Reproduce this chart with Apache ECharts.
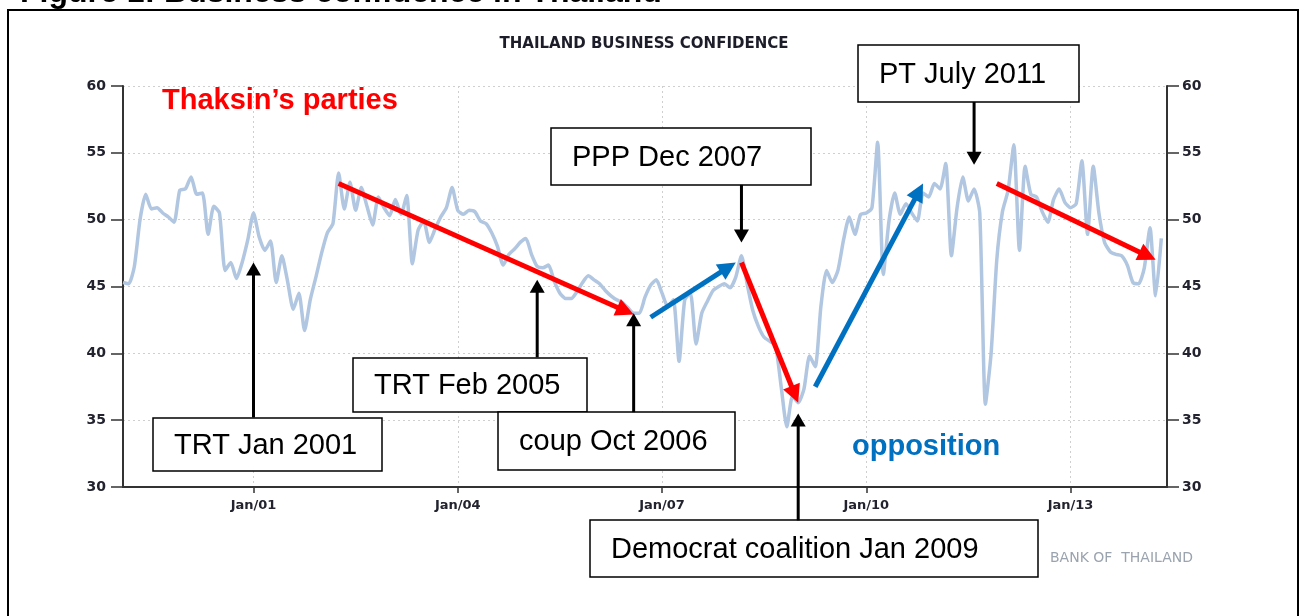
<!DOCTYPE html>
<html>
<head>
<meta charset="utf-8">
<title>Thailand business confidence</title>
<script src="https://cdn.jsdelivr.net/npm/echarts@6/dist/echarts.min.js"></script>
<style>
  html, body { margin: 0; padding: 0; background: #fff; }
  #main { width: 1306px; height: 616px; }
</style>
</head>
<body>
<div id="main"></div>
<script>
// months on the axis: Feb 1999 .. Jun 2014
const firstYear = 1999, firstMonth = 2, monthCount = 185;
const months = [];
for (let i = 0; i < monthCount; i++) {
  const t = firstMonth - 1 + i;
  const m = t % 12 + 1;
  months.push((firstYear + Math.floor(t / 12)) + '-' + (m < 10 ? '0' + m : m));
}
const tickMonths = ['2001-01', '2004-01', '2007-01', '2010-01', '2013-01'];
const tickLabels = ['Jan/01', 'Jan/04', 'Jan/07', 'Jan/10', 'Jan/13'];

// business sentiment index
const bsi1999 = [45.3, 45.2, 46.5, 50.0, 51.9, 50.8, 50.9, 50.5, 50.2, 49.8, 52.2];
const bsi2000 = [52.3, 53.2, 51.9, 52.0, 48.9, 51.0, 50.5, 46.2, 46.8, 45.6, 46.8, 48.5];
const bsi2001 = [50.5, 48.7, 47.7, 48.4, 45.3, 47.3, 45.4, 43.3, 44.5, 41.7, 44.0, 45.7];
const bsi2002 = [47.5, 49.0, 49.7, 53.5, 50.8, 52.8, 50.7, 52.4, 51.0, 49.6, 51.7, 50.9];
const bsi2003 = [50.3, 51.5, 50.4, 51.8, 46.7, 49.2, 49.9, 48.3, 49.3, 50.2, 50.9, 52.4];
const bsi2004 = [50.7, 50.4, 50.7, 50.6, 49.9, 49.7, 49.0, 48.0, 46.6, 47.4, 47.8, 48.3];
const bsi2005 = [48.6, 47.4, 46.5, 46.4, 46.6, 45.4, 44.5, 44.1, 44.1, 44.6, 45.3, 45.8];
const bsi2006 = [45.5, 45.2, 44.7, 44.3, 44.0, 43.8, 43.4, 43.0, 43.0, 44.2, 45.1, 45.5];
const bsi2007 = [44.5, 43.5, 44.0, 39.4, 44.0, 44.5, 40.7, 43.0, 43.9, 44.7, 45.0, 45.2];
const bsi2008 = [44.9, 45.7, 47.3, 45.2, 43.2, 42.0, 41.2, 40.9, 40.6, 37.5, 34.5, 36.8];
const bsi2009 = [36.3, 37.3, 39.8, 39.0, 43.5, 46.2, 45.3, 46.2, 48.5, 50.2, 48.9, 50.4];
const bsi2010 = [50.5, 50.9, 55.8, 45.9, 49.9, 52.0, 50.4, 51.2, 50.5, 49.9, 52.0, 51.7];
const bsi2011 = [52.7, 52.3, 54.2, 47.3, 50.9, 53.2, 51.4, 52.3, 50.5, 36.2, 40.0, 47.0];
const bsi2012 = [50.6, 52.2, 55.6, 47.7, 54.0, 51.9, 51.7, 50.6, 49.8, 51.5, 52.3, 51.3];
const bsi2013 = [50.9, 51.2, 54.4, 48.9, 54.0, 50.5, 48.3, 47.6, 47.4, 47.3, 46.6, 45.3];
const bsi2014 = [45.2, 46.4, 49.4, 44.3, 48.6];

const confidence = [].concat(bsi1999, bsi2000, bsi2001, bsi2002, bsi2003, bsi2004,
  bsi2005, bsi2006, bsi2007, bsi2008, bsi2009, bsi2010, bsi2011, bsi2012, bsi2013, bsi2014);

// trend arrows in data coordinates: [fromMonth, fromValue, toMonth, toValue]
const redArrows = [
  ['2002-04', 52.7, '2006-08', 42.9],
  ['2008-03', 46.8, '2009-01', 36.3],
  ['2011-12', 52.7, '2014-04', 47.0]
];
const blueArrows = [
  ['2006-11', 42.7, '2008-02', 46.8],
  ['2009-04', 37.5, '2010-11', 52.7]
];
// event pointers: [month, tailValue, tipValue]
const eventArrows = [
  ['2001-01', 35.2, 46.8],
  ['2005-03', 39.7, 45.5],
  ['2006-08', 35.6, 43.0],
  ['2008-03', 52.6, 48.3],
  ['2009-01', 27.5, 35.5],
  ['2011-08', 58.8, 54.1]
];
const eventNames = ['TRT Jan 2001', 'TRT Feb 2005', 'coup Oct 2006', 'PPP Dec 2007',
  'Democrat coalition Jan 2009', 'PT July 2011'];

// label boxes (page layout, pixels)
const boxLayout = [
  [153, 418, 229, 53],
  [353, 358, 234, 54],
  [498, 412, 237, 58],
  [551, 128, 260, 57],
  [590, 520, 448, 57],
  [858, 45, 221, 57]
];

const axisFont = { color: '#23232f', fontFamily: 'DejaVu Sans', fontSize: 13, fontWeight: 'bold' };
const isTick = (i, v) => tickMonths.indexOf(v) >= 0;

const chart = echarts.init(document.getElementById('main'));

const option = {
  animation: false,
  backgroundColor: '#fff',
  grid: { left: 123, right: 139, top: 86, bottom: 129, outerBoundsMode: 'none' },
  xAxis: {
    type: 'category',
    data: months,
    boundaryGap: false,
    axisLine: { lineStyle: { color: '#333', width: 2 } },
    axisTick: { interval: isTick, length: 6, lineStyle: { color: '#333', width: 1.5 } },
    axisLabel: Object.assign({
      interval: isTick,
      margin: 12,
      formatter: v => tickLabels[tickMonths.indexOf(v)]
    }, axisFont),
    splitLine: { show: true, interval: isTick, lineStyle: { color: '#cfcfcf', type: [2, 3] } }
  },
  yAxis: [
    {
      type: 'value', min: 30, max: 60, interval: 5, position: 'left',
      axisLine: { show: true, lineStyle: { color: '#333', width: 2 } },
      axisTick: { show: true, length: 12, lineStyle: { color: '#333', width: 1.5 } },
      axisLabel: Object.assign({ margin: 17 }, axisFont, { fontSize: 14 }),
      splitLine: { lineStyle: { color: '#cfcfcf', type: [2, 3] } }
    },
    {
      type: 'value', min: 30, max: 60, interval: 5, position: 'right',
      axisLine: { show: true, lineStyle: { color: '#333', width: 2 } },
      axisTick: { show: true, length: 12, lineStyle: { color: '#333', width: 1.5 } },
      axisLabel: Object.assign({ margin: 15 }, axisFont, { fontSize: 14 }),
      splitLine: { show: false }
    }
  ],
  series: [{
    name: 'Business confidence',
    type: 'line',
    data: confidence,
    symbol: 'none',
    smooth: 0.2,
    lineStyle: { color: '#b1c6e0', width: 3.5 }
  }]
};

chart.setOption(option);

function toPx(month, value) {
  return chart.convertToPixel({ gridIndex: 0 }, [month, value]);
}

function arrow(a, b, color, width, headLen, headHalf) {
  const dx = b[0] - a[0], dy = b[1] - a[1];
  const len = Math.sqrt(dx * dx + dy * dy);
  const ux = dx / len, uy = dy / len;
  const bx = b[0] - ux * headLen, by = b[1] - uy * headLen;
  return [
    {
      type: 'line', z: 120,
      shape: { x1: a[0], y1: a[1], x2: bx + ux, y2: by + uy },
      style: { stroke: color, lineWidth: width }
    },
    {
      type: 'polygon', z: 120,
      shape: { points: [[b[0], b[1]], [bx - uy * headHalf, by + ux * headHalf], [bx + uy * headHalf, by - ux * headHalf]] },
      style: { fill: color }
    }
  ];
}

let graphics = [];

// outer frame and the cut-off figure caption
graphics.push({
  type: 'rect', z: 50,
  shape: { x: 8, y: 10, width: 1290, height: 640 },
  style: { fill: null, stroke: '#000', lineWidth: 2 }
});
graphics.push({
  type: 'text', z: 50,
  style: { x: 20, y: 9, text: 'Figure 1: Business confidence in Thailand',
    font: 'bold 32px "Liberation Sans", Arial, sans-serif', fill: '#000', verticalAlign: 'bottom' }
});
graphics.push({
  type: 'text', z: 50,
  style: { x: 644, y: 44, text: 'THAILAND BUSINESS CONFIDENCE', align: 'center', verticalAlign: 'middle',
    font: 'bold 15px "DejaVu Sans", sans-serif', fill: '#1d1d2a' }
});
graphics.push({
  type: 'text', z: 50,
  style: { x: 1050, y: 558, text: 'BANK OF  THAILAND', verticalAlign: 'middle',
    font: '14px "DejaVu Sans", sans-serif', fill: '#9aa3ae' }
});

// label boxes
boxLayout.forEach((b, i) => {
  graphics.push({
    type: 'rect', z: 110,
    shape: { x: b[0], y: b[1], width: b[2], height: b[3] },
    style: { fill: '#fff', stroke: '#000', lineWidth: 1.5 }
  });
  graphics.push({
    type: 'text', z: 111,
    style: { x: b[0] + 21, y: b[1] + b[3] / 2 + 1, text: eventNames[i], verticalAlign: 'middle',
      font: '29px "Liberation Sans", Arial, sans-serif', fill: '#000' }
  });
});

eventArrows.forEach(e => {
  graphics = graphics.concat(arrow(toPx(e[0], e[1]), toPx(e[0], e[2]), '#000', 3, 13, 7.5));
});
redArrows.forEach(r => {
  graphics = graphics.concat(arrow(toPx(r[0], r[1]), toPx(r[2], r[3]), '#ff0000', 5, 18, 9));
});
blueArrows.forEach(r => {
  graphics = graphics.concat(arrow(toPx(r[0], r[1]), toPx(r[2], r[3]), '#0070c0', 5, 18, 9));
});

graphics.push({
  type: 'text', z: 120,
  style: { x: 162, y: 101, text: 'Thaksin\u2019s parties', verticalAlign: 'middle',
    font: 'bold 29px "Liberation Sans", Arial, sans-serif', fill: '#ff0000' }
});
graphics.push({
  type: 'text', z: 120,
  style: { x: 852, y: 447, text: 'opposition', verticalAlign: 'middle',
    font: 'bold 29px "Liberation Sans", Arial, sans-serif', fill: '#0070c0' }
});

chart.setOption({ graphic: graphics });
</script>
</body>
</html>
